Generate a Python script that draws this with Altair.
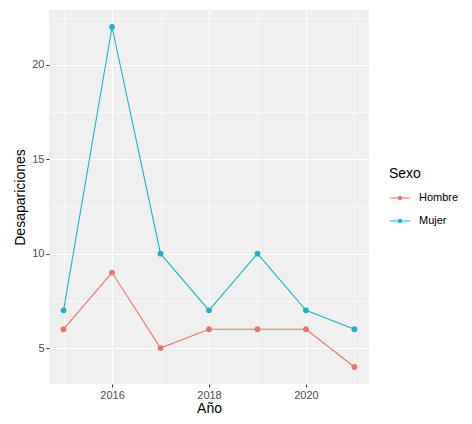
import altair as alt
import pandas as pd

years = [2015, 2016, 2017, 2018, 2019, 2020, 2021]
hombre = [6, 9, 5, 6, 6, 6, 4]
mujer = [7, 22, 10, 7, 10, 7, 6]

df = pd.DataFrame({
    "Año": years * 2,
    "Desapariciones": hombre + mujer,
    "Sexo": ["Hombre"] * len(years) + ["Mujer"] * len(years),
})

x_ticks = [2015, 2016, 2017, 2018, 2019, 2020, 2021]
y_ticks = [5, 7.5, 10, 12.5, 15, 17.5, 20, 22.5]

font = "Liberation Sans"

color = alt.Color(
    "Sexo:N",
    scale=alt.Scale(domain=["Hombre", "Mujer"], range=["#EE716B", "#17B6C4"]),
    legend=alt.Legend(
        title="Sexo",
        orient="none",
        legendX=340,
        legendY=157,
        titleFont=font,
        titleFontSize=14,
        titleFontWeight="normal",
        titleColor="#000000",
        labelFont=font,
        labelFontSize=11,
        labelColor="#000000",
        labelOffset=8,
        symbolType="M-1,0L1,0M0.17,0A0.17,0.17 0 1,1 -0.17,0A0.17,0.17 0 1,1 0.17,0Z",
        symbolSize=420,
        symbolStrokeWidth=1.1,
        rowPadding=7,
        titlePadding=6,
    ),
)

x = alt.X(
    "Año:Q",
    scale=alt.Scale(domain=[2014.7, 2021.3], nice=False, zero=False),
    axis=alt.Axis(
        values=x_ticks,
        format="d",
        labelExpr="datum.value % 2 == 0 ? datum.label : ''",
        gridWidth={"condition": {"test": "datum.value % 2 == 0", "value": 1.1}, "value": 0.55},
        tickColor={"condition": {"test": "datum.value % 2 == 0", "value": "#333333"}, "value": "transparent"},
        titleFontWeight="normal",
    ),
)

y = alt.Y(
    "Desapariciones:Q",
    scale=alt.Scale(domain=[3.1, 22.9], nice=False, zero=False),
    axis=alt.Axis(
        values=y_ticks,
        labelExpr="datum.value % 5 == 0 ? datum.label : ''",
        gridWidth={"condition": {"test": "datum.value % 5 == 0", "value": 1.1}, "value": 0.55},
        tickColor={"condition": {"test": "datum.value % 5 == 0", "value": "#333333"}, "value": "transparent"},
        titleFontWeight="normal",
    ),
)

base = alt.Chart(df).encode(x=x, y=y, color=color)
lines = base.mark_line(strokeWidth=1.1)
points = base.mark_point(filled=True, size=34, opacity=1)

chart = (
    alt.layer(lines, points)
    .properties(
        width=320,
        height=374,
        autosize=alt.AutoSizeParams(type="none"),
        padding={"left": 41, "top": 2, "right": 95, "bottom": 32},
        background="white",
    )
    .configure_view(fill="#EFEFEF", stroke=None)
    .configure_axis(
        grid=True,
        gridColor="#FFFFFF",
        domain=False,
        tickSize=3,
        tickWidth=1,
        labelFont=font,
        labelFontSize=11,
        labelColor="#4D4D4D",
        labelPadding=2,
        titleFont=font,
        titleFontSize=14,
        titleColor="#000000",
    )
    .configure_axisX(titlePadding=1)
    .configure_axisY(titlePadding=4)
)

chart.save("out.html", embed_options={"renderer": "svg", "actions": False})
